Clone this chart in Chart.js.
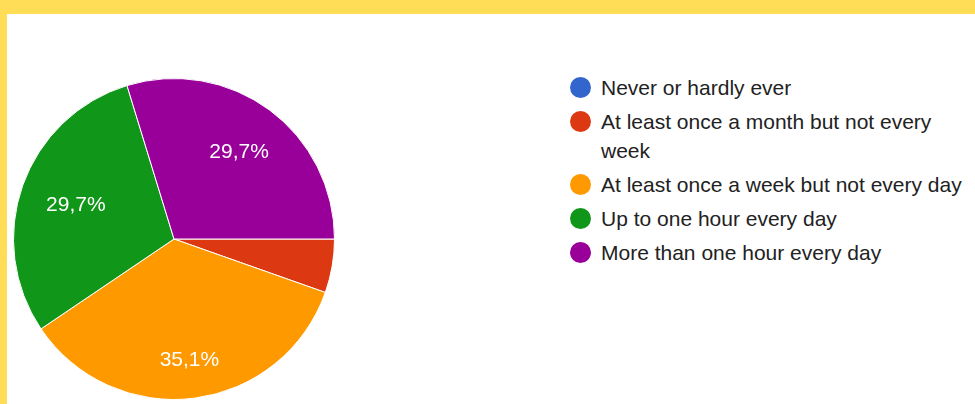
<!DOCTYPE html>
<html>
<head>
<meta charset="utf-8">
<script src="https://cdn.jsdelivr.net/npm/chart.js@4"></script>
<style>
  html, body { margin: 0; padding: 0; background: #fff; }
  body { width: 975px; height: 404px; position: relative; overflow: hidden; font-family: "Liberation Sans", Arial, sans-serif; }
  #frameTop { position: absolute; left: 0; top: 0; width: 975px; height: 14px; background: #ffdd57; }
  #frameLeft { position: absolute; left: 0; top: 0; width: 7px; height: 404px; background: #ffdd57; }
  #pie { position: absolute; left: 13px; top: 78px; }
  #legend { position: absolute; left: 570px; top: 73px; width: 405px; margin: 0; padding: 0; list-style: none; }
  #legend li { display: flex; align-items: flex-start; margin-bottom: 5px; font-size: 21px; line-height: 29px; color: #222; }
  #legend .dot { flex: none; width: 21px; height: 21px; border-radius: 50%; margin: 4px 10px 0 0; }
  #legend .txt { width: 372px; }
</style>
</head>
<body>
<div id="frameTop"></div>
<div id="frameLeft"></div>
<canvas id="pie" width="322" height="322"></canvas>
<ul id="legend"></ul>
<script>
const labels = [
  'Never or hardly ever',
  'At least once a month but not every week',
  'At least once a week but not every day',
  'Up to one hour every day',
  'More than one hour every day'
];
const counts = [0, 2, 13, 11, 11];
const colors = ['#3366cc', '#dc3912', '#ff9900', '#109618', '#990099'];

const total = counts.reduce((a, b) => a + b, 0);
const pct = v => (v / total * 100).toFixed(1).replace('.', ',') + '%';

// slice labels, google style (small slices get none)
// text box is pushed in so its outer edge sits at ~0.845 of the radius
const sliceText = {
  id: 'sliceText',
  afterDatasetsDraw(chart) {
    const ctx = chart.ctx;
    const meta = chart.getDatasetMeta(0);
    ctx.save();
    ctx.font = '21px "Liberation Sans", Arial, sans-serif';
    ctx.fillStyle = '#fff';
    ctx.textAlign = 'center';
    ctx.textBaseline = 'middle';
    meta.data.forEach((arc, i) => {
      const v = counts[i];
      if (v / total < 0.1) return;
      const txt = pct(v);
      const p = arc.getProps(['x', 'y', 'startAngle', 'endAngle', 'outerRadius'], true);
      const mid = (p.startAngle + p.endAngle) / 2;
      const c = Math.cos(mid), s = Math.sin(mid);
      const hw = ctx.measureText(txt).width / 2, hh = 10.5;
      const r = p.outerRadius * 0.845 - (hw * Math.abs(c) + hh * Math.abs(s));
      ctx.fillText(txt, p.x + c * r, p.y + s * r + 1);
    });
    ctx.restore();
  }
};

new Chart(document.getElementById('pie'), {
  type: 'pie',
  data: {
    labels: labels,
    datasets: [{
      data: counts,
      backgroundColor: colors,
      borderColor: '#fff',
      borderWidth: 1
    }]
  },
  options: {
    responsive: false,
    animation: false,
    rotation: 90,
    layout: { padding: 0 },
    plugins: {
      legend: { display: false },
      tooltip: { enabled: false }
    }
  },
  plugins: [sliceText]
});

const ul = document.getElementById('legend');
labels.forEach((l, i) => {
  const li = document.createElement('li');
  li.innerHTML = '<span class="dot" style="background:' + colors[i] + '"></span><span class="txt">' + l + '</span>';
  ul.appendChild(li);
});
</script>
</body>
</html>
